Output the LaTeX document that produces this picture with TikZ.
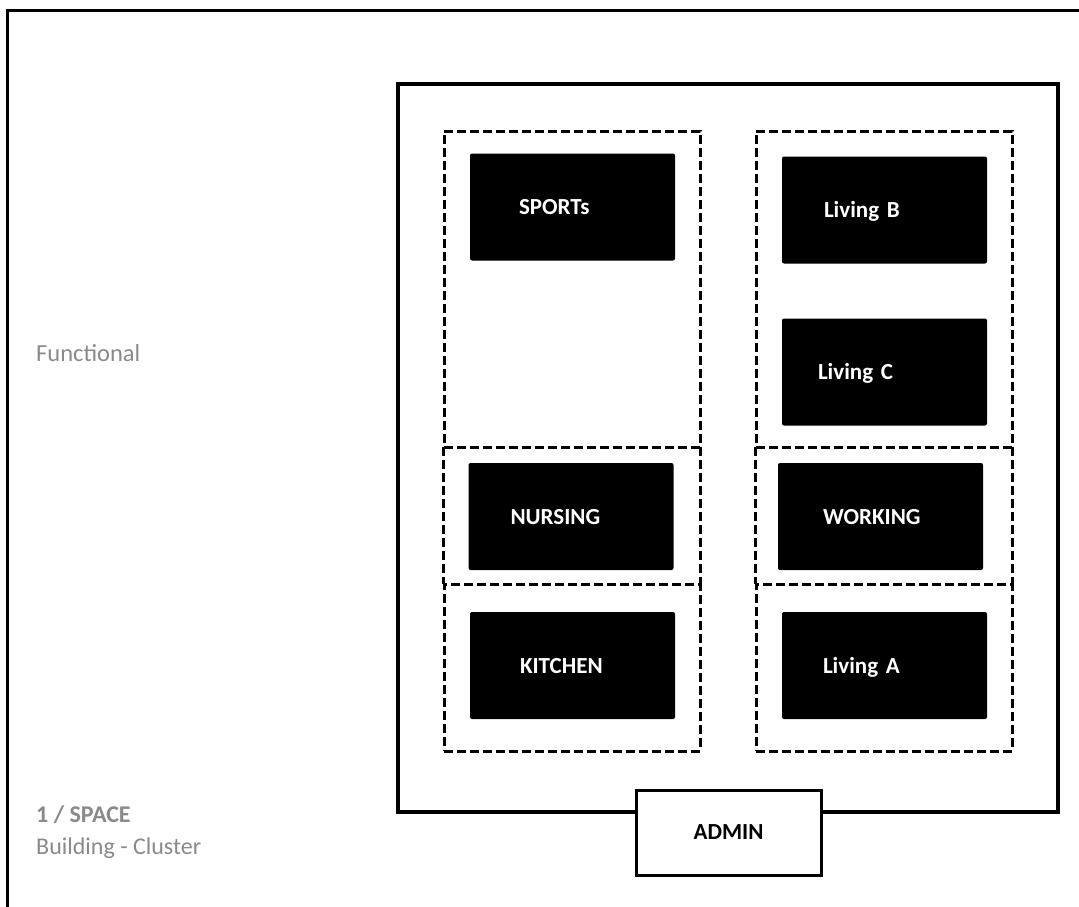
\documentclass[tikz,border=0pt]{standalone}
\usepackage{fontspec}
\setmainfont{Carlito}
\definecolor{labelgray}{HTML}{8A8A8A}

\begin{document}
\begin{tikzpicture}[x=1pt,y=-1pt,
  room/.style={fill=black,text=white,rounded corners=2pt,font=\bfseries\fontsize{23}{27}\selectfont,
    minimum width=205pt,minimum height=107pt,text width=121pt,inner xsep=42pt,inner ysep=0pt,
    align=left,text height=15pt,text depth=0pt},
  zoneline/.style={line width=3pt,dash pattern=on 9pt off 4pt},
  zone/.style={draw,zoneline,inner sep=0pt},
  sidelabel/.style={text=labelgray,font=\fontsize{24.5}{28}\selectfont,inner sep=0pt,anchor=base west}]
\clip (0,0) rectangle (1079,907);
\fill[white] (0,0) rectangle (1079,907);
\draw[line width=3pt] (7,11) rectangle (1100,930);
\draw[line width=3.2pt] (398,84) rectangle (1058,812);
% dashed zones, the middle ones share their top and bottom edges
\node[zone,minimum width=256pt,minimum height=316pt] (sportzone) at (572,289) {};
\node[inner sep=0pt,minimum width=256pt,minimum height=137pt] (nursezone) at (572,515.5) {};
\node[zone,minimum width=256pt,minimum height=167pt] (kitchenzone) at (572,667.5) {};
\node[zone,minimum width=256pt,minimum height=316pt] (livingzone) at (884,289) {};
\node[inner sep=0pt,minimum width=256pt,minimum height=137pt] (workzone) at (884,515.5) {};
\node[zone,minimum width=256pt,minimum height=167pt] (livingazone) at (884,667.5) {};
\draw[zoneline] (nursezone.north west) -- (nursezone.south west);
\draw[zoneline] (nursezone.north east) -- (nursezone.south east);
\draw[zoneline] (workzone.north west) -- (workzone.south west);
\draw[zoneline] (workzone.north east) -- (workzone.south east);
% rooms
\node[room,inner xsep=49pt,text width=107pt] (sports) at (572.5,207) {SPORTs};
\node[room] (livingb) at (884.5,210) {Living B};
\node[room,inner xsep=36pt,text width=133pt] (livingc) at (884.5,372) {Living C};
\node[room] (nursing) at (571,516.5) {NURSING};
\node[room,inner xsep=45pt,text width=115pt] (working) at (880.5,516.5) {WORKING};
\node[room,inner xsep=50pt,text width=105pt] (kitchen) at (572.5,665.5) {KITCHEN};
\node[room,inner xsep=41pt,text width=123pt] (livinga) at (884.5,665.5) {Living A};
\node[draw,fill=white,line width=3pt,minimum width=185pt,minimum height=85pt,
  font=\bfseries\fontsize{23}{27}\selectfont] (admin) at (728.5,832.5) {ADMIN};
% labels on the left
\node[sidelabel] (functional) at (36,361) {Functional};
\node[sidelabel,font=\bfseries\fontsize{24}{28}\selectfont] (space) at (36,822) {1 / SPACE};
\node[sidelabel,font=\fontsize{24}{28}\selectfont] (cluster) at (36,854) {Building - Cluster};
\end{tikzpicture}
\end{document}
